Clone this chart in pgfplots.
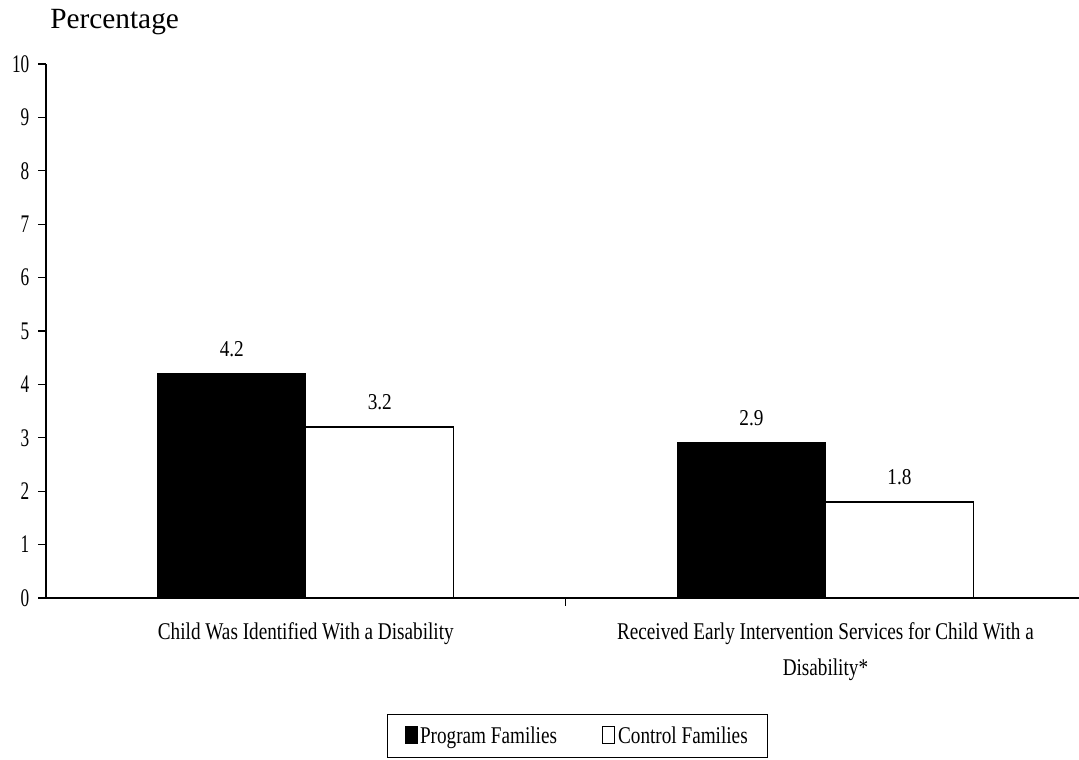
\documentclass[border=0pt]{standalone}
\usepackage{pgfplots}
\pgfplotsset{compat=1.18}
\usepackage{fontspec}
\setmainfont{Liberation Serif}
\newfontfamily\cond[FakeStretch=0.8]{Liberation Serif}
\newfontfamily\condnum[FakeStretch=0.68]{Liberation Serif}
\newfontfamily\condval[FakeStretch=0.85]{Liberation Serif}
\begin{document}
\begin{tikzpicture}
\begin{axis}[
  at={(0,0)}, anchor=south west,
  scale only axis,
  width=774.75pt, height=400.5pt,
  xmin=-0.5, xmax=1.488,
  ymin=0, ymax=10,
  axis x line*=bottom, axis y line*=left,
  axis line style={line width=1.4pt, -},
  ybar=0pt, bar width=111pt,
  ytick={0,1,...,10},
  xtick={0.5},
  xticklabels={},
  extra x ticks={0,1},
  extra x tick labels={Child Was Identified With a Disability, {Received Early Intervention Services for Child With a\\ Disability*}},
  extra x tick style={tick style={draw=none}},
  tick align=outside,
  major tick length=6pt,
  tick style={line width=1pt, black},
  /pgf/number format/assume math mode=true,
  yticklabel style={font=\condnum\fontsize{19}{23}\selectfont, xshift=-3pt},
  xticklabel style={font=\cond\fontsize{18}{27}\selectfont, align=center, yshift=-9pt},
  nodes near coords,
  nodes near coords style={font=\condval\fontsize{17}{21}\selectfont, /pgf/number format/.cd, fixed, fixed zerofill, precision=1, assume math mode=true, /tikz/yshift=9pt},
  legend style={at={(0.5145,0)}, anchor=north, yshift=-87pt, draw=black, line width=1pt, legend columns=2, font=\cond\fontsize{18}{22}\selectfont, inner xsep=13pt, inner ysep=7pt, nodes={inner xsep=2pt}, /tikz/every even column/.append style={column sep=32pt}},
]
\addplot[fill=black, draw=black, line width=1pt,
  legend image code/.code={\draw[fill=black, line width=0.6pt] (0pt,-5.5pt) rectangle (9pt,7pt);}]
  coordinates {(0,4.2) (1,2.9)};
\addplot[fill=white, draw=black, line width=1pt,
  legend image code/.code={\draw[fill=white, line width=0.8pt] (0pt,-5.5pt) rectangle (9pt,7pt);}]
  coordinates {(0,3.2) (1,1.8)};
\legend{Program Families, Control Families}
\end{axis}
\node[anchor=base west, font=\fontsize{22}{26}\selectfont, inner sep=0pt] at (3pt,427pt) {Percentage};
\pgfresetboundingbox
\path (-34.5pt,-121.5pt) rectangle (774.75pt,448.5pt);
\end{tikzpicture}
\end{document}
